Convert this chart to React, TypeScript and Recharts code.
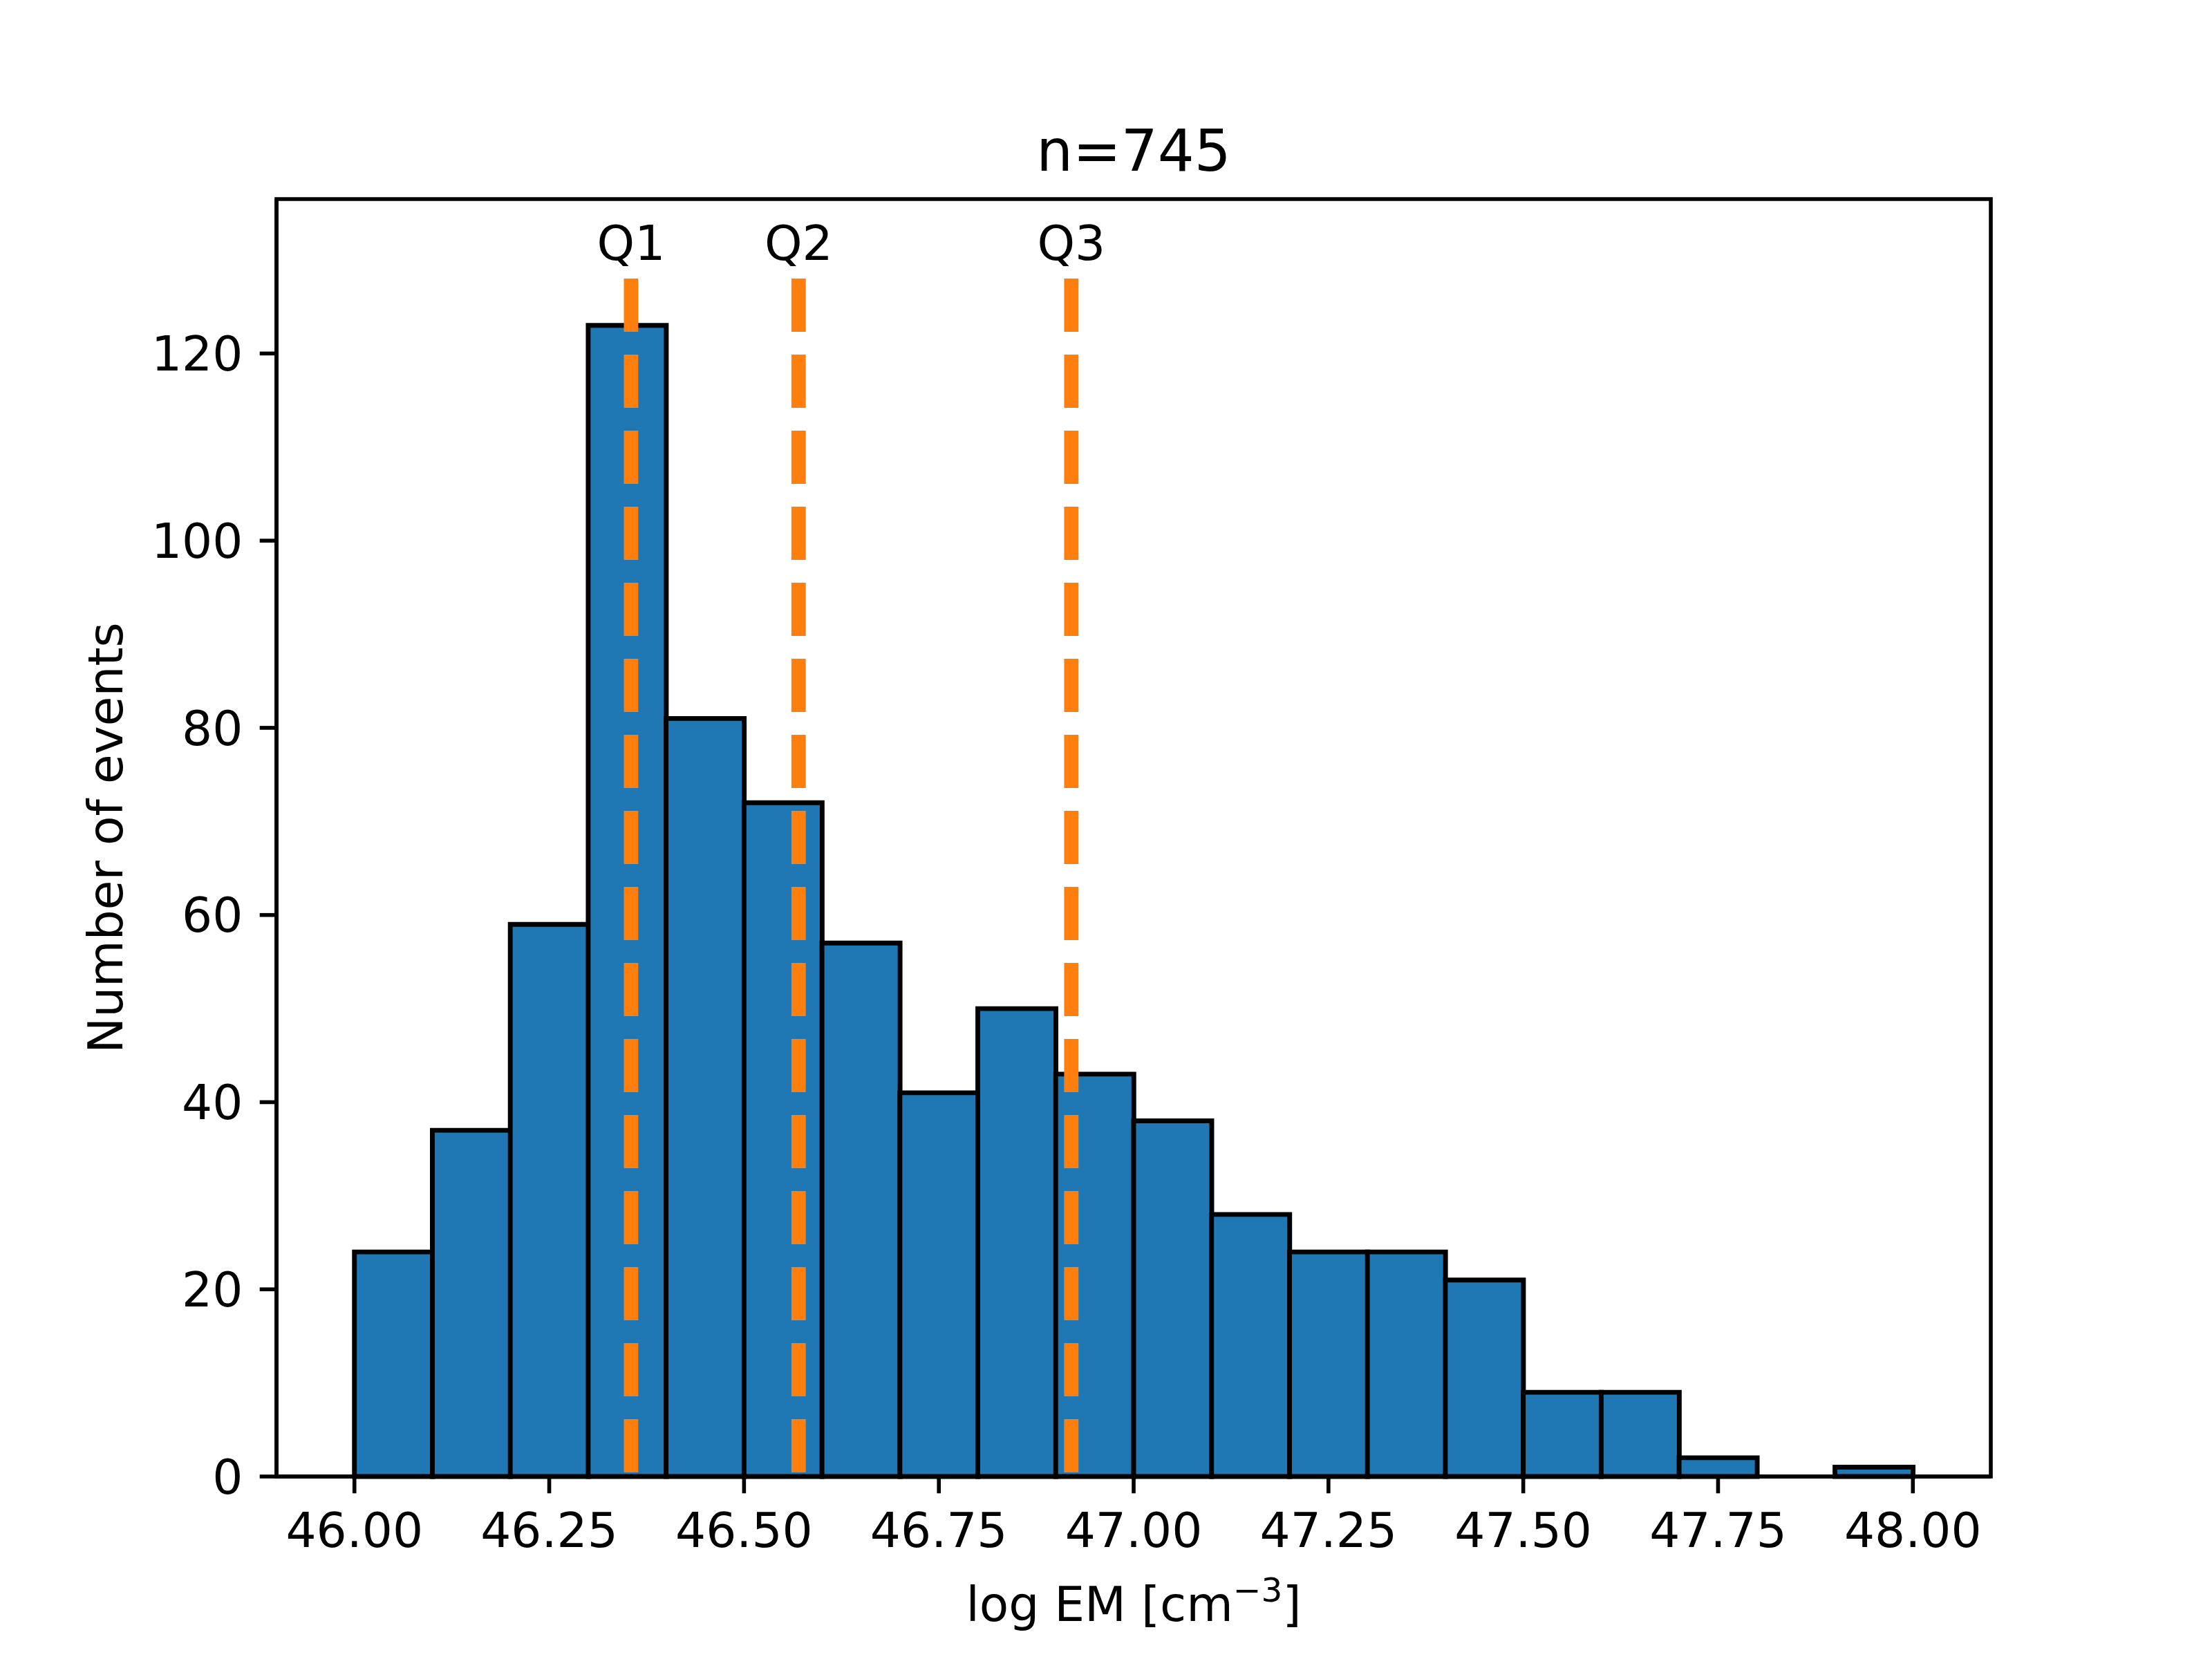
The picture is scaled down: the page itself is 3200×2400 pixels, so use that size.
import {
  ComposedChart,
  Bar,
  XAxis,
  YAxis,
  ReferenceLine,
  ReferenceArea,
} from "recharts";

// histogram bins (left edges), width 0.1
const binStarts = [
  46.0, 46.1, 46.2, 46.3, 46.4, 46.5, 46.6, 46.7, 46.8, 46.9,
  47.0, 47.1, 47.2, 47.3, 47.4, 47.5, 47.6, 47.7, 47.8, 47.9,
];
const binWidth = 0.1;
const counts = [24, 37, 59, 123, 81, 72, 57, 41, 50, 43, 38, 28, 24, 24, 21, 9, 9, 2, 0, 1];

const quartileNames = ["Q1", "Q2", "Q3"];
const quartileValues = [46.355, 46.57, 46.92];
const quartileLineTop = 128;

const xTicks = [46.0, 46.25, 46.5, 46.75, 47.0, 47.25, 47.5, 47.75, 48.0];
const yTicks = [0, 20, 40, 60, 80, 100, 120];
const xDomain = [45.9, 48.1];
const yDomain = [0, 136.5];

const title = "n=745";
const yLabel = "Number of events";

const data = binStarts.map((start, i) => ({
  center: start + binWidth / 2,
  count: counts[i],
}));

const FONT = "DejaVu Sans";
const FS = 69.4;
const tickStyle = { fill: "#000", fontSize: FS, fontFamily: FONT };

export default function App() {
  return (
    <div style={{ position: "relative", width: 3200, height: 2400, background: "#fff", fontFamily: FONT }}>
      <style>{"body{margin:0}"}</style>
      <ComposedChart
        width={3200}
        height={2400}
        data={data}
        margin={{ top: 288, right: 320, bottom: 0, left: 0 }}
        barCategoryGap={0}
        barGap={0}
      >
        <XAxis
          dataKey="center"
          type="number"
          domain={xDomain}
          ticks={xTicks}
          tickFormatter={(v: number) => v.toFixed(2)}
          height={264}
          tick={tickStyle}
          tickSize={24.3}
          tickMargin={28}
          tickLine={{ stroke: "#000", strokeWidth: 5.6 }}
          axisLine={{ stroke: "#000", strokeWidth: 5.6 }}
          interval={0}
        />
        <YAxis
          type="number"
          domain={yDomain}
          ticks={yTicks}
          width={400}
          tick={tickStyle}
          tickSize={24.3}
          tickMargin={24.3}
          tickLine={{ stroke: "#000", strokeWidth: 5.6 }}
          axisLine={{ stroke: "#000", strokeWidth: 5.6 }}
          interval={0}
        />
        <Bar
          dataKey="count"
          fill="#1f77b4"
          stroke="#000"
          strokeWidth={6.9}
          isAnimationActive={false}
        />
        {quartileValues.map((q, i) => (
          <ReferenceLine
            key={quartileNames[i]}
            segment={[
              { x: q, y: quartileLineTop },
              { x: q, y: 0 },
            ]}
            stroke="#ff7f0e"
            strokeWidth={20.8}
            strokeDasharray="77 33"
            label={{
              value: quartileNames[i],
              position: "top",
              offset: 27,
              fill: "#000",
              fontSize: FS,
              fontFamily: FONT,
            }}
          />
        ))}
        <ReferenceArea
          x1={xDomain[0]}
          x2={xDomain[1]}
          y1={yDomain[0]}
          y2={yDomain[1]}
          fill="none"
          stroke="#000"
          strokeWidth={5.6}
        />
      </ComposedChart>
      <svg
        width={3200}
        height={2400}
        style={{ position: "absolute", left: 0, top: 0, pointerEvents: "none" }}
      >
        <text x={1640} y={247} textAnchor="middle" fontSize={83.3} fontFamily={FONT} fill="#000">
          {title}
        </text>
        <text x={1640} y={2345} textAnchor="middle" fontSize={FS} fontFamily={FONT} fill="#000">
          log EM [cm
          <tspan dy={-28} fontSize={48.6}>−3</tspan>
          <tspan dy={28}>]</tspan>
        </text>
        <text
          transform="translate(177,1212) rotate(-90)"
          textAnchor="middle"
          fontSize={FS}
          fontFamily={FONT}
          fill="#000"
        >
          {yLabel}
        </text>
      </svg>
    </div>
  );
}
